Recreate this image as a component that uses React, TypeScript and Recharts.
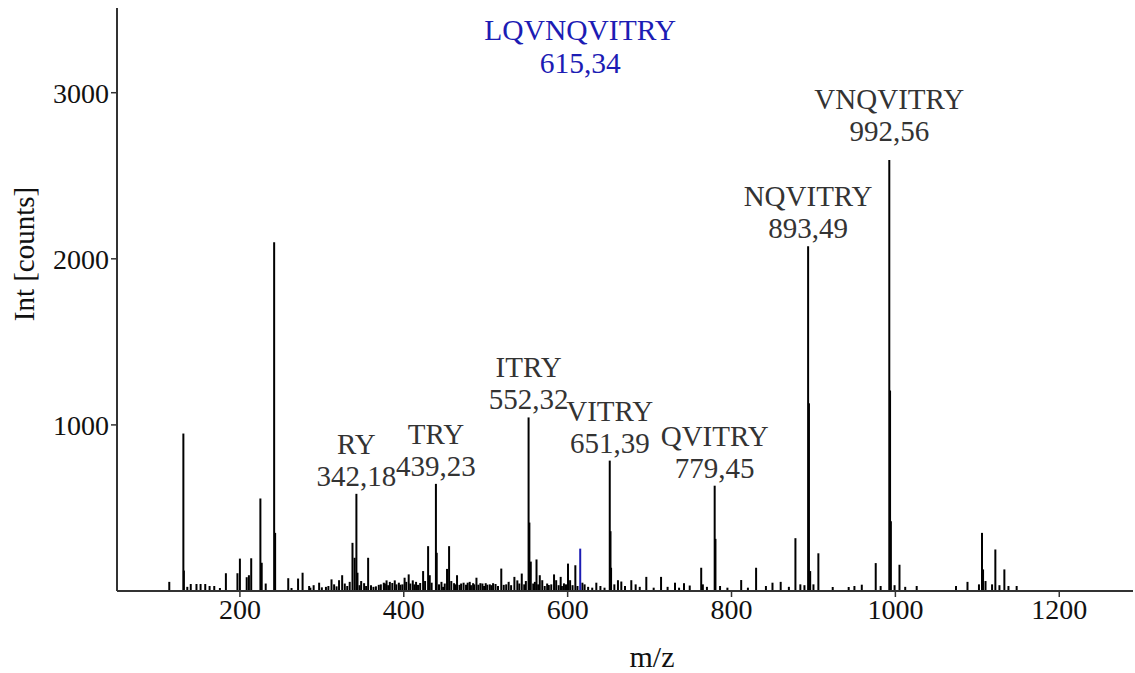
import { ScatterChart, Scatter, XAxis, YAxis, ErrorBar } from "recharts";

const FONT = "'Liberation Serif', 'Times New Roman', serif";

// unlabelled peaks of the spectrum (m/z, intensity)
const noiseMz = [
  113.8, 131.0, 131.6, 135.8, 140, 147, 152, 157.7, 163, 168.7, 175.6, 182.9, 197, 200, 208.3,
  211, 213.8, 225, 226.6, 231.5, 241.8, 243, 259, 263, 271, 276.5, 284.5, 296.7, 305, 311.8,
  321, 324.8, 337.4, 340, 343.5, 351.6, 356.5, 363, 369.5, 375.6, 379, 383, 389, 394, 398.4,
  401, 406, 411, 417.4, 423.6, 429.7, 431.7, 440.2, 448, 452.8, 455.3, 461.4, 465, 468, 473,
  480.5, 484.6, 488.7, 493.5, 500, 505, 509, 519, 522, 528, 535, 538.6, 544, 553.3, 555, 560,
  562, 566, 569, 577, 583.4, 586, 591.5, 595.5, 600.4, 603, 609.4, 618, 620.7, 635, 640,
  652.3, 653, 661.4, 665.5, 677.7, 683, 696, 714, 731, 742, 749, 763, 765, 780.4, 811.8, 830,
  842, 850, 860, 878, 889, 894.5, 896, 906, 923.5, 943, 950, 959, 976, 993.5, 994.5, 1005,
  1026, 1074, 1088, 1105.7, 1107, 1122, 1133, 1148,
];
const noiseInt = [
  55, 948, 123, 25, 42, 42, 42, 42, 30, 30, 18, 107, 107, 195, 83,
  95, 197, 557, 170, 45, 2100, 350, 77, 18, 75, 110, 30, 50, 25, 70,
  65, 95, 290, 200, 110, 47, 200, 25, 37, 50, 64, 55, 64, 50, 40,
  80, 100, 64, 37, 120, 270, 95, 230, 25, 133, 270, 47, 95, 37, 50,
  55, 47, 80, 47, 47, 40, 47, 135, 37, 55, 85, 64, 105, 412, 177, 55,
  190, 95, 65, 36, 100, 65, 85, 46, 165, 65, 155, 50, 40, 50, 30,
  360, 140, 65, 57, 65, 40, 85, 85, 50, 47, 33, 140, 40, 314, 66, 140,
  30, 50, 55, 318, 35, 1130, 120, 227, 24, 24, 30, 38, 168, 1207, 420, 158,
  30, 30, 55, 350, 130, 250, 130, 30,
];

// low-level baseline peaks
const minorMz = [
  286, 290, 300, 308, 315, 318, 328, 331, 334, 346, 348, 354, 360, 366, 372, 377, 381, 386,
  391, 396, 403, 408, 413, 415, 420, 426, 434, 443, 446, 450, 458, 463, 470, 476, 478, 482,
  486, 491, 496, 498, 502, 507, 512, 515, 525, 531, 541, 547, 549, 558, 564, 572, 575, 580,
  589, 593, 598, 606, 612, 625, 630, 645, 657, 670, 688, 705, 722, 736, 770, 786, 795, 820,
  870, 884, 900, 982, 999, 1012, 1102, 1110, 1118, 1127, 1138,
];
const minorInt = [
  20, 35, 22, 30, 40, 28, 45, 30, 55, 35, 60, 30, 35, 28, 40, 45, 35, 48,
  40, 38, 55, 45, 40, 55, 48, 60, 50, 40, 55, 45, 60, 40, 45, 38, 50, 35,
  40, 38, 45, 30, 38, 35, 42, 30, 40, 35, 45, 40, 60, 45, 40, 30, 45, 40,
  35, 30, 40, 35, 30, 25, 20, 20, 40, 30, 25, 20, 25, 20, 25, 30, 20, 20,
  25, 40, 40, 30, 35, 25, 40, 60, 40, 35, 30,
];

// annotated y-ion fragments
const fragmentNames = ["RY", "TRY", "ITRY", "VITRY", "QVITRY", "NQVITRY", "VNQVITRY"];
const fragmentMz = [342.18, 439.23, 552.32, 651.39, 779.45, 893.49, 992.56];
const fragmentInt = [585, 645, 1045, 785, 634, 2076, 2595];

// precursor
const precursorNames = ["LQVNQVITRY"];
const precursorMz = [615.34];
const precursorInt = [255];

const xTicks = [200, 400, 600, 800, 1000, 1200];
const yTicks = [1000, 2000, 3000];

const labelLift: Record<string, number> = { VNQVITRY: 11 };

const fmt = (v: number) => v.toFixed(2).replace(".", ",");

const noiseData = [
  ...noiseMz.map((mz, i) => ({ mz, int: noiseInt[i], err: [noiseInt[i], 0] })),
  ...minorMz.map((mz, i) => ({ mz, int: minorInt[i], err: [minorInt[i], 0] })),
];
const fragmentData = fragmentMz.map((mz, i) => ({
  mz,
  int: fragmentInt[i],
  err: [fragmentInt[i], 0],
  name: fragmentNames[i],
}));
const precursorData = precursorMz.map((mz, i) => ({
  mz,
  int: precursorInt[i],
  err: [precursorInt[i], 0],
  name: precursorNames[i],
}));

const Empty = () => <g />;

const FragmentLabel = (props: any) => {
  const { cx, cy, payload } = props;
  const lift = labelLift[payload.name] || 0;
  return (
    <g fontFamily={FONT} fontSize={29} fill="#333" textAnchor="middle">
      <text x={cx} y={cy - 40 - lift}>{payload.name}</text>
      <text x={cx} y={cy - 8 - lift}>{fmt(payload.mz)}</text>
    </g>
  );
};

const PrecursorLabel = (props: any) => {
  const { cx, payload } = props;
  return (
    <g fontFamily={FONT} fontSize={29.5} fill="#1c1cb4" textAnchor="middle">
      <text x={cx} y={40}>{payload.name}</text>
      <text x={cx} y={73}>{fmt(payload.mz)}</text>
    </g>
  );
};

const YTitle = ({ viewBox }: any) => {
  const x = viewBox.x + 34;
  const y = 254;
  return (
    <text
      x={x}
      y={y}
      transform={`rotate(-90, ${x}, ${y})`}
      textAnchor="middle"
      fontFamily={FONT}
      fontSize={29}
      fill="#111"
    >
      Int [counts]
    </text>
  );
};

const XTitle = ({ viewBox }: any) => (
  <text
    x={viewBox.x + viewBox.width / 2 + 27}
    y={viewBox.y + 76}
    textAnchor="middle"
    fontFamily={FONT}
    fontSize={30}
    fill="#111"
  >
    m/z
  </text>
);

export default function App() {
  return (
    <div style={{ position: "absolute", left: 0, top: 0, background: "#fff" }}>
      <ScatterChart
        width={1135}
        height={673}
        margin={{ top: 8, right: 2, bottom: 0, left: 0 }}
      >
        <XAxis
          type="number"
          dataKey="mz"
          domain={[50, 1290]}
          ticks={xTicks}
          allowDataOverflow
          height={82}
          stroke="#333"
          tickSize={6}
          axisLine={{ stroke: "#333", strokeWidth: 2 }}
          tickLine={{ stroke: "#333", strokeWidth: 1.5 }}
          tick={{ fill: "#111", fontSize: 28, fontFamily: FONT }}
          label={{ content: XTitle }}
        />
        <YAxis
          type="number"
          dataKey="int"
          domain={[0, 3510]}
          ticks={yTicks}
          allowDataOverflow
          width={117}
          stroke="#333"
          tickSize={6}
          axisLine={{ stroke: "#333", strokeWidth: 2 }}
          tickLine={{ stroke: "#333", strokeWidth: 1.5 }}
          tick={{ fill: "#111", fontSize: 28, fontFamily: FONT }}
          label={{ content: YTitle }}
        />
        <Scatter data={noiseData} shape={Empty} isAnimationActive={false}>
          <ErrorBar dataKey="err" direction="y" width={0} stroke="#000" strokeWidth={2} isAnimationActive={false} />
        </Scatter>
        <Scatter data={fragmentData} shape={FragmentLabel} isAnimationActive={false}>
          <ErrorBar dataKey="err" direction="y" width={0} stroke="#000" strokeWidth={2} isAnimationActive={false} />
        </Scatter>
        <Scatter data={precursorData} shape={PrecursorLabel} isAnimationActive={false}>
          <ErrorBar dataKey="err" direction="y" width={0} stroke="#1c1cb4" strokeWidth={2} isAnimationActive={false} />
        </Scatter>
      </ScatterChart>
    </div>
  );
}
